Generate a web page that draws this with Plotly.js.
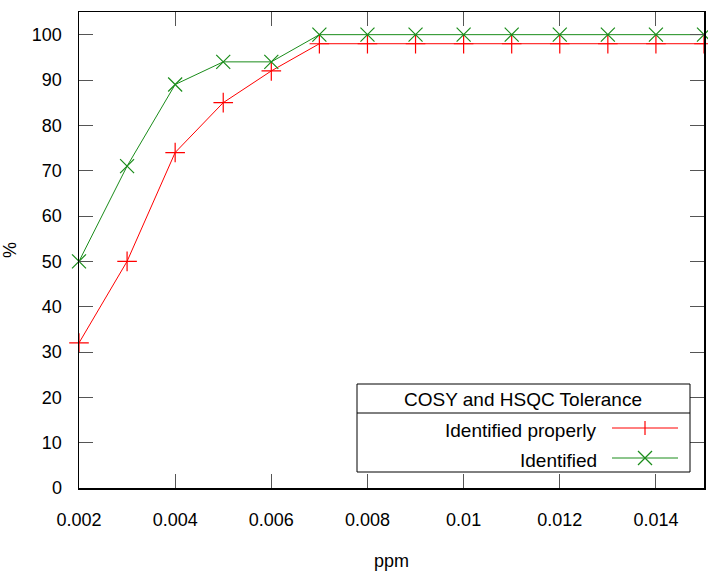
<!DOCTYPE html>
<html><head><meta charset="utf-8">
<script src="https://cdn.plot.ly/plotly-3.0.1.min.js"></script>
<style>html,body{margin:0;padding:0;background:#fff}#c{width:708px;height:571px}</style>
</head><body><div id="c"></div>
<script>
const ppm = [0.002,0.003,0.004,0.005,0.006,0.007,0.008,0.009,0.010,0.011,0.012,0.013,0.014,0.015];
const identifiedProperly = [32,50,74,85,92,98,98,98,98,98,98,98,98,98];
const identified = [50,71,89,94,94,100,100,100,100,100,100,100,100,100];
const legendTitle = 'COSY and HSQC Tolerance';
const seriesNames = ['Identified properly','Identified'];
const xTickVals = [0.002,0.004,0.006,0.008,0.010,0.012,0.014];
const xTickText = ['0.002','0.004','0.006','0.008','0.01','0.012','0.014'];
const yTickVals = [0,10,20,30,40,50,60,70,80,90,100];

const RED = '#ff0000', GREEN = '#1a8c1a';
const FONT = 'Liberation Sans, Arial, sans-serif';
const L=79, R=704, T=12, B=488;
const px = x => (x-L)/(R-L);
const py = y => (B-y)/(B-T);

const traces = [
  {x: ppm, y: identifiedProperly, name: seriesNames[0], mode:'lines+markers', type:'scatter',
   line:{color:RED,width:1}, marker:{symbol:'cross-thin', size:14, line:{color:RED,width:1.2}}, cliponaxis:false},
  {x: ppm, y: identified, name: seriesNames[1], mode:'lines+markers', type:'scatter',
   line:{color:GREEN,width:1}, marker:{symbol:'x-thin', size:14, line:{color:GREEN,width:1.2}}, cliponaxis:false}
];

const shapes = [
  {type:'rect', xref:'paper', yref:'paper', x0:px(357), x1:px(690), y0:py(472), y1:py(384),
   line:{color:'#000',width:1}, fillcolor:'#fff', layer:'above'},
  {type:'line', xref:'paper', yref:'paper', x0:px(357), x1:px(690), y0:py(413), y1:py(413),
   line:{color:'#000',width:1}, layer:'above'},
  {type:'line', xref:'paper', yref:'paper', x0:px(612), x1:px(678), y0:py(428), y1:py(428), line:{color:RED,width:1}, layer:'above'},
  {type:'line', xref:'paper', yref:'paper', x0:px(645), x1:px(645), y0:py(421), y1:py(435), line:{color:RED,width:1.2}, layer:'above'},
  {type:'line', xref:'paper', yref:'paper', x0:px(612), x1:px(678), y0:py(458), y1:py(458), line:{color:GREEN,width:1}, layer:'above'},
  {type:'line', xref:'paper', yref:'paper', x0:px(638), x1:px(652), y0:py(451), y1:py(465), line:{color:GREEN,width:1.2}, layer:'above'},
  {type:'line', xref:'paper', yref:'paper', x0:px(638), x1:px(652), y0:py(465), y1:py(451), line:{color:GREEN,width:1.2}, layer:'above'}
];

const annotations = [
  {xref:'paper', yref:'paper', x:px(523), y:py(399), text:legendTitle, showarrow:false, xanchor:'center', yanchor:'middle', font:{family:FONT,size:19,color:'#000'}},
  {xref:'paper', yref:'paper', x:px(599), y:py(430), text:seriesNames[0], showarrow:false, xanchor:'right', yanchor:'middle', font:{family:FONT,size:19,color:'#000'}},
  {xref:'paper', yref:'paper', x:px(599), y:py(460), text:seriesNames[1], showarrow:false, xanchor:'right', yanchor:'middle', font:{family:FONT,size:19,color:'#000'}}
];

const layout = {
  width:708, height:571,
  margin:{l:L, r:708-R, t:T, b:571-B},
  paper_bgcolor:'#fff', plot_bgcolor:'#fff',
  showlegend:false,
  font:{family:FONT, size:18, color:'#000'},
  xaxis:{range:[0.002,0.015], tickvals:xTickVals, ticktext:xTickText, ticks:'inside', ticklen:14, tickcolor:'#555',
    showline:true, linecolor:'#000', linewidth:1.5, mirror:'ticks', showgrid:false, zeroline:false,
    ticklabelstandoff:15, title:{text:'ppm', standoff:26, font:{family:FONT,size:18}}},
  yaxis:{range:[0,105], tickvals:yTickVals, ticks:'inside', ticklen:14, tickcolor:'#555',
    showline:true, linecolor:'#000', linewidth:1.5, mirror:'ticks', showgrid:false, zeroline:false,
    ticklabelstandoff:12, title:{text:'%', standoff:11, font:{family:FONT,size:18}}},
  shapes, annotations
};
Plotly.newPlot('c', traces, layout, {displayModeBar:false, staticPlot:true});
</script></body></html>
